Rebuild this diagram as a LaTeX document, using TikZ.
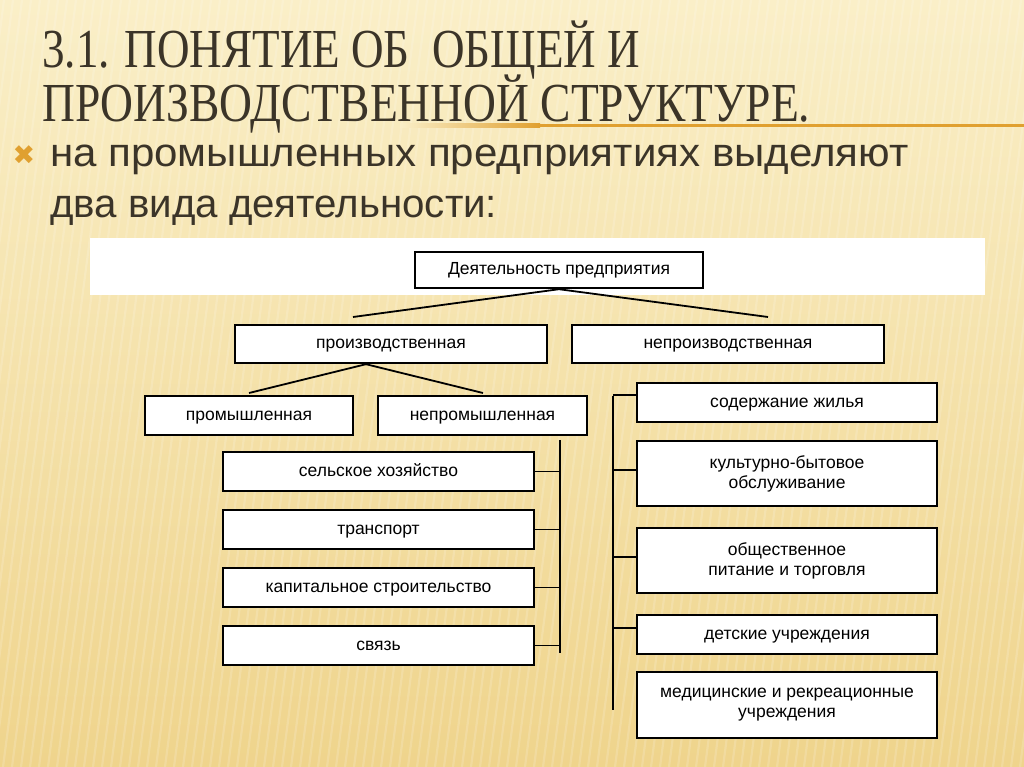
\documentclass[tikz,border=0pt]{standalone}
\usepackage{fontspec}
\usepackage{graphicx}
\setmainfont{Liberation Sans}
\newfontfamily\titlefont{Liberation Serif}
\newfontfamily\symfont{DejaVu Sans}
\definecolor{bgtop}{HTML}{FAEFC8}
\definecolor{bgbot}{HTML}{EFD48C}
\definecolor{ink}{HTML}{3B3428}
\definecolor{accent}{HTML}{E0A030}
\begin{document}
\begin{tikzpicture}[x=1pt,y=-1pt,
  box/.style={draw=black, line width=2.4pt, fill=white, inner sep=2pt,
    font=\fontsize{17.5}{20}\selectfont, align=center, text=black},
  onebox/.style={box, text height=13pt, text depth=4pt},
  conn/.style={draw=black, line width=1.8pt},
  stripe/.style={white, opacity=0.16, line width=2.2pt},
  titletext/.style={anchor=base west, inner sep=0, text=ink,
    font=\titlefont\fontsize{55}{55}\selectfont}]
\useasboundingbox (0,0) rectangle (1024,767);
% background
\shade[top color=bgtop, bottom color=bgbot] (0,0) rectangle (1024,767);
\foreach \i in {-100,-91,...,1100} {
  \draw[stripe] (\i+50,0) -- (\i-50,767);
}
% title
\node[titletext] (t1) at (42,68)
  {\resizebox{598pt}{\height}{3.1. ПОНЯТИЕ ОБ\ \ ОБЩЕЙ И}};
\node[titletext] (t2) at (42,122)
  {\resizebox{768pt}{\height}{ПРОИЗВОДСТВЕННОЙ СТРУКТУРЕ.}};
\shade[left color=bgtop, right color=accent] (400,124) rectangle (540,127.5);
\fill[accent] (540,124) rectangle (1024,127.5);
% bullet text
\node[text=accent, inner sep=0, font=\symfont\fontsize{27}{27}\selectfont] (bul) at (24,155) {✖};
\node[anchor=base west, inner sep=0, text=ink, font=\fontsize{40}{40}\selectfont] (b1) at (50,167)
  {\resizebox{858pt}{\height}{на промышленных предприятиях выделяют}};
\node[anchor=base west, inner sep=0, text=ink, font=\fontsize{40}{40}\selectfont] (b2) at (50,218)
  {\resizebox{447pt}{\height}{два вида деятельности:}};
% white band
\fill[white] (90,238) rectangle (985,295);
% boxes
\node[onebox, minimum width=288pt, minimum height=36pt] (top) at (559,270) {Деятельность предприятия};
\node[onebox, minimum width=312pt, minimum height=38pt] (prod) at (391,344) {производственная};
\node[onebox, minimum width=312pt, minimum height=38pt] (nprod) at (728,344) {непроизводственная};
\node[onebox, minimum width=208pt, minimum height=39pt] (prom) at (249,415.5) {промышленная};
\node[onebox, minimum width=209pt, minimum height=39pt] (nprom) at (482.5,415.5) {непромышленная};
\node[onebox, minimum width=311pt, minimum height=39pt] (s1) at (378.5,471.5) {сельское хозяйство};
\node[onebox, minimum width=311pt, minimum height=39pt] (s2) at (378.5,529.5) {транспорт};
\node[onebox, minimum width=311pt, minimum height=39pt] (s3) at (378.5,587.5) {капитальное строительство};
\node[onebox, minimum width=311pt, minimum height=39pt] (s4) at (378.5,645.5) {связь};
\node[onebox, minimum width=300pt, minimum height=39pt] (r1) at (787,402.5) {содержание жилья};
\node[box, minimum width=300pt, minimum height=65pt] (r2) at (787,473.5) {культурно-бытовое\\обслуживание};
\node[box, minimum width=300pt, minimum height=65pt] (r3) at (787,560.5) {общественное\\питание и торговля};
\node[onebox, minimum width=300pt, minimum height=39pt] (r4) at (787,634.5) {детские учреждения};
\node[box, minimum width=300pt, minimum height=66pt] (r5) at (787,705) {медицинские и рекреационные\\учреждения};
% connectors
\coordinate (pl) at (353,317);
\coordinate (pr) at (768,317);
\draw[conn] (top.south) -- (pl);
\draw[conn] (top.south) -- (pr);
\coordinate (ql) at (249,393);
\coordinate (qr) at (483,393);
\draw[conn] ([xshift=-25pt]prod.south) -- (ql);
\draw[conn] ([xshift=-25pt]prod.south) -- (qr);
\coordinate (lbt) at (560,440);
\coordinate (lbb) at (560,653);
\draw[conn] (lbt) -- (lbb);
\foreach \n in {s1,s2,s3,s4} { \draw[conn] (\n.east) -- (\n.east -| lbt); }
\coordinate (rbt) at (613,396);
\coordinate (rbb) at (613,710);
\draw[conn] (rbt) -- (rbb);
\draw[conn] ([yshift=7.5pt]r1.west) -- ([yshift=7.5pt]r1.west -| rbt);
\draw[conn] ([yshift=3.5pt]r2.west) -- ([yshift=3.5pt]r2.west -| rbt);
\draw[conn] ([yshift=3.5pt]r3.west) -- ([yshift=3.5pt]r3.west -| rbt);
\draw[conn] ([yshift=6.5pt]r4.west) -- ([yshift=6.5pt]r4.west -| rbt);
\end{tikzpicture}
\end{document}
